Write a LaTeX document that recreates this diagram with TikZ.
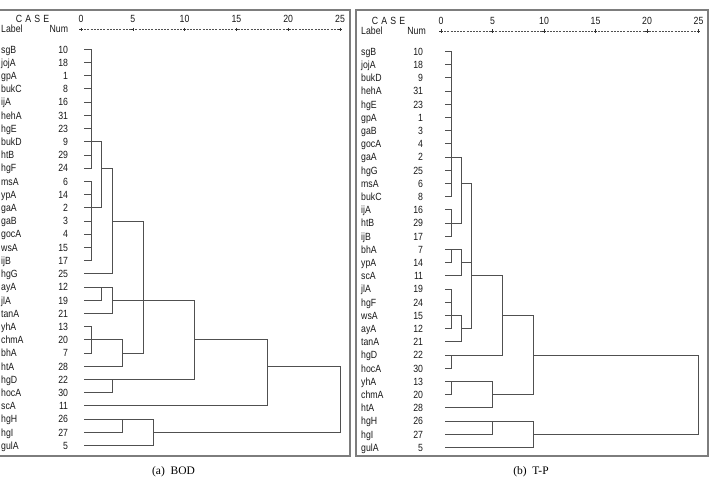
\documentclass[tikz,border=0pt]{standalone}
\usepackage{fontspec}
\setmainfont{Liberation Serif}
\newfontfamily\gul[FakeStretch=0.84]{Liberation Sans}
\newcommand\dgSet[5]{\def\PX{#1}\def\PS{#2}\def\PY{#3}\def\PR{#4}\def\PZ{#5}}
\newcommand\dgH[3]{\draw[dl] ({\PX+\PS*(#2)},{\PY+\PR*(#1)}) -- ({\PX+\PS*(#3)},{\PY+\PR*(#1)});}
\newcommand\dgV[3]{\draw[dl] ({\PX+\PS*(#1)},{\PY+\PR*(#2)}) -- ({\PX+\PS*(#1)},{\PY+\PR*(#3)});}
\newcommand\dgLeaf[4]{%
  \node[lab,anchor=west] (\PP l#1) at (\LX,{\PY+\PR*(#1)}) {#2};
  \node[lab,anchor=east] (\PP n#1) at (\NX,{\PY+\PR*(#1)}) {#3};
  \dgH{#1}{\PZ}{#4}}
\newcommand\dgAxis[2]{% #1 number y, #2 line y
  \draw[axl] ({\PX},{#2}) -- ({\PX+\PS*25},{#2});
  \foreach \k in {0,5,10,15,20,25}{
    \node[lab] (\PP ax\k) at ({\PX+\PS*\k},{#1}) {\k};
    \draw[axp] ({\PX+\PS*\k-1.6},{#2}) -- ({\PX+\PS*\k+1.6},{#2})
               ({\PX+\PS*\k},{#2-1.6}) -- ({\PX+\PS*\k},{#2+1.6});
  }}
\newcommand\dgCase{C\hspace{3.2pt}A\hspace{3.2pt}S\hspace{3.2pt}E}
\begin{document}
\begin{tikzpicture}[x=1pt,y=-1pt,
  dl/.style={draw={rgb,255:red,80;green,80;blue,80},line width=0.95pt,line cap=rect},
  box/.style={draw={rgb,255:red,125;green,125;blue,125},line width=1.2pt},
  lab/.style={inner sep=0pt,font=\gul\fontsize{10.4}{11}\selectfont,text height=7.5pt,text depth=0pt,text={rgb,255:red,25;green,25;blue,25}},
  axl/.style={draw={rgb,255:red,80;green,80;blue,80},line width=0.55pt,dash pattern=on 2pt off 1.2pt},
  axp/.style={draw={rgb,255:red,50;green,50;blue,50},line width=0.6pt},
  capt/.style={inner sep=0pt,font=\fontsize{11.5}{12}\selectfont}]
\useasboundingbox (0,0) rectangle (710,478);
\fill[white] (0,0) rectangle (710,478);
% ---------- panel (a) ----------
\draw[box] (-2,10) -- (350,10) -- (350,456) -- (-2,456);
\def\PP{a}\def\LX{1}\def\NX{68.3}
\dgSet{81}{10.36}{49.3}{13.21}{0.3}
\node[lab,anchor=center] (acase) at (32.5,18.5) {\dgCase};
\node[lab,anchor=west] (alabel) at (1,29) {Label};
\node[lab,anchor=east] (anum) at (68.3,29) {Num};
\dgAxis{18.5}{29.3}
\dgLeaf{0}{sgB}{10}{1}
\dgLeaf{1}{jojA}{18}{1}
\dgLeaf{2}{gpA}{1}{1}
\dgLeaf{3}{bukC}{8}{1}
\dgLeaf{4}{ijA}{16}{1}
\dgLeaf{5}{hehA}{31}{1}
\dgLeaf{6}{hgE}{23}{1}
\dgLeaf{7}{bukD}{9}{1}
\dgLeaf{8}{htB}{29}{1}
\dgLeaf{9}{hgF}{24}{1}
\dgLeaf{10}{msA}{6}{1}
\dgLeaf{11}{ypA}{14}{1}
\dgLeaf{12}{gaA}{2}{1}
\dgLeaf{13}{gaB}{3}{1}
\dgLeaf{14}{gocA}{4}{1}
\dgLeaf{15}{wsA}{15}{1}
\dgLeaf{16}{ijB}{17}{1}
\dgLeaf{17}{hgG}{25}{3}
\dgLeaf{18}{ayA}{12}{2}
\dgLeaf{19}{jlA}{19}{2}
\dgLeaf{20}{tanA}{21}{3}
\dgLeaf{21}{yhA}{13}{1}
\dgLeaf{22}{chmA}{20}{1}
\dgLeaf{23}{bhA}{7}{1}
\dgLeaf{24}{htA}{28}{4}
\dgLeaf{25}{hgD}{22}{3}
\dgLeaf{26}{hocA}{30}{3}
\dgLeaf{27}{scA}{11}{18}
\dgLeaf{28}{hgH}{26}{4}
\dgLeaf{29}{hgI}{27}{4}
\dgLeaf{30}{gulA}{5}{7}
% verticals
\dgV{1}{0}{9}\dgV{1}{10}{16}\dgV{1}{21}{23}
\dgV{2}{7}{12}\dgV{2}{18}{19}
\dgV{3}{9}{17}\dgV{3}{18}{20}\dgV{3}{25}{26}
\dgV{4}{22}{24}\dgV{4}{28}{29}
\dgV{6}{13}{23}
\dgV{7}{28}{30}
\dgV{11}{19}{25}
\dgV{18}{22}{27}
\dgV{25}{24}{29}
% horizontals
\dgH{7}{1}{2}\dgH{12}{1}{2}\dgH{9}{2}{3}\dgH{13}{3}{6}
\dgH{18}{2}{3}\dgH{19}{3}{11}
\dgH{22}{1}{4}\dgH{23}{4}{6}
\dgH{25}{3}{11}\dgH{22}{11}{18}\dgH{24}{18}{25}
\dgH{28}{4}{7}\dgH{29}{7}{25}
\node[capt] (capa) at (173.5,472) {(a)~~BOD};
% ---------- panel (b) ----------
\draw[box] (356,10) rectangle (708,456);
\def\PP{b}\def\LX{361}\def\NX{423.3}
\dgSet{441}{10.3}{51.5}{13.2}{0.4}
\node[lab,anchor=center] (bcase) at (388.5,20.3) {\dgCase};
\node[lab,anchor=west] (blabel) at (361,30.5) {Label};
\node[lab,anchor=east] (bnum) at (426,30.5) {Num};
\dgAxis{20.3}{31}
\dgLeaf{0}{sgB}{10}{1}
\dgLeaf{1}{jojA}{18}{1}
\dgLeaf{2}{bukD}{9}{1}
\dgLeaf{3}{hehA}{31}{1}
\dgLeaf{4}{hgE}{23}{1}
\dgLeaf{5}{gpA}{1}{1}
\dgLeaf{6}{gaB}{3}{1}
\dgLeaf{7}{gocA}{4}{1}
\dgLeaf{8}{gaA}{2}{1}
\dgLeaf{9}{hgG}{25}{1}
\dgLeaf{10}{msA}{6}{1}
\dgLeaf{11}{bukC}{8}{1}
\dgLeaf{12}{ijA}{16}{1}
\dgLeaf{13}{htB}{29}{1}
\dgLeaf{14}{ijB}{17}{1}
\dgLeaf{15}{bhA}{7}{1}
\dgLeaf{16}{ypA}{14}{1}
\dgLeaf{17}{scA}{11}{2}
\dgLeaf{18}{jlA}{19}{1}
\dgLeaf{19}{hgF}{24}{1}
\dgLeaf{20}{wsA}{15}{1}
\dgLeaf{21}{ayA}{12}{1}
\dgLeaf{22}{tanA}{21}{2}
\dgLeaf{23}{hgD}{22}{1}
\dgLeaf{24}{hocA}{30}{1}
\dgLeaf{25}{yhA}{13}{1}
\dgLeaf{26}{chmA}{20}{1}
\dgLeaf{27}{htA}{28}{5}
\dgLeaf{28}{hgH}{26}{5}
\dgLeaf{29}{hgI}{27}{5}
\dgLeaf{30}{gulA}{5}{9}
% verticals
\dgV{1}{0}{11}\dgV{1}{12}{14}\dgV{1}{15}{16}\dgV{1}{18}{21}\dgV{1}{23}{24}\dgV{1}{25}{26}
\dgV{2}{8}{13}\dgV{2}{15}{17}\dgV{2}{20}{22}
\dgV{3}{10}{21}
\dgV{5}{25}{27}\dgV{5}{28}{29}
\dgV{6}{17}{23}
\dgV{9}{20}{26}\dgV{9}{28}{30}
\dgV{25}{23}{29}
% horizontals
\dgH{8}{1}{2}\dgH{13}{1}{2}\dgH{10}{2}{3}
\dgH{15}{1}{2}\dgH{16}{2}{3}
\dgH{20}{1}{2}\dgH{21}{2}{3}
\dgH{17}{3}{6}\dgH{23}{1}{6}\dgH{20}{6}{9}
\dgH{25}{1}{5}\dgH{26}{5}{9}\dgH{28}{5}{9}
\dgH{23}{9}{25}\dgH{29}{9}{25}
\node[capt] (capb) at (531,472) {(b)~~T-P};
\end{tikzpicture}
\end{document}
